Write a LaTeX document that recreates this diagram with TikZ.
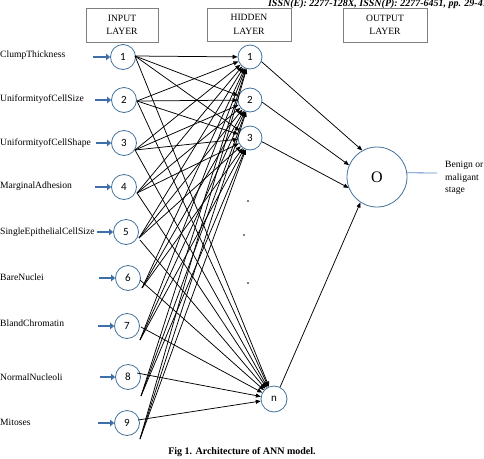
\documentclass[tikz,border=0pt]{standalone}
\usepackage{fontspec}
\setmainfont{Liberation Serif}
\newfontfamily\numfont{Carlito}
\usetikzlibrary{arrows.meta,calc}
\definecolor{nodeblue}{HTML}{41719C}
\definecolor{arrowblue}{HTML}{3F6FA8}
\definecolor{lineblue}{HTML}{5B8BC7}
\definecolor{boxgray}{HTML}{7F7F7F}
\begin{document}
\begin{tikzpicture}[x=1pt,y=-1pt,
  inp/.style={circle,draw=nodeblue,line width=0.8pt,minimum size=25pt,inner sep=0pt,font=\numfont\fontsize{11}{13}\selectfont},
  hid/.style={circle,draw=nodeblue,line width=0.8pt,minimum size=24pt,inner sep=0pt,font=\numfont\fontsize{11}{13}\selectfont},
  lbl/.style={anchor=west,inner sep=0pt,font=\fontsize{9.6}{11}\selectfont},
  layerbox/.style={draw=boxgray,line width=0.6pt,minimum height=34pt,align=center,font=\fontsize{9.6}{13.5}\selectfont,inner sep=0pt},
  feed/.style={draw=arrowblue,line width=2.2pt,-{Triangle[length=4pt,width=6.5pt]}},
  conn/.style={draw=black,line width=0.75pt,-{Triangle[length=5pt,width=4pt]}},
]
\useasboundingbox (0,0) rectangle (484,458);
\clip (0,0) rectangle (484,458);

% header (cut at top, as in the reference)
\node[anchor=base east,inner sep=0pt,font=\bfseries\itshape\fontsize{10}{12}\selectfont] (hdr) at (488,6) {ISSN(E): 2277-128X, ISSN(P): 2277-6451, pp. 29-41};

% layer boxes
\node[layerbox,minimum width=72pt] (binput) at (122,25) {INPUT\\LAYER};
\node[layerbox,minimum width=84pt,minimum height=33pt] (bhidden) at (249,24.5) {HIDDEN\\LAYER};
\node[layerbox,minimum width=84pt] (boutput) at (385,25) {OUTPUT\\LAYER};

% input labels
\node[lbl] (l1) at (0,55) {ClumpThickness};
\node[lbl] (l2) at (0,99) {UniformityofCellSize};
\node[lbl] (l3) at (0,143) {UniformityofCellShape};
\node[lbl] (l4) at (0,186) {MarginalAdhesion};
\node[lbl] (l5) at (0,232) {SingleEpithelialCellSize};
\node[lbl] (l6) at (0,277) {BareNuclei};
\node[lbl] (l7) at (0,323) {BlandChromatin};
\node[lbl] (l8) at (0,377) {NormalNucleoli};
\node[lbl] (l9) at (0,422) {Mitoses};

% input nodes
\node[inp] (i1) at (123,57) {1};
\node[inp] (i2) at (124,100) {2};
\node[inp] (i3) at (124,143) {3};
\node[inp] (i4) at (124,187) {4};
\node[inp] (i5) at (126,232) {5};
\node[inp] (i6) at (128,278) {6};
\node[inp] (i7) at (127,326) {7};
\node[inp] (i8) at (128,377) {8};
\node[inp] (i9) at (127,423) {9};

% hidden nodes
\node[hid] (h1) at (250,57) {1};
\node[hid] (h2) at (250,100) {2};
\node[hid] (h3) at (250,138) {3};
\node[hid,minimum size=26pt] (hn) at (274,399) {n};

% output node
\node[circle,draw=nodeblue,line width=0.8pt,minimum size=60pt,inner sep=0pt,font=\fontsize{16}{18}\selectfont] (O) at (377,177) {O};

% dots
\fill (248,201) circle[radius=0.9pt];
\fill (244,235) circle[radius=0.9pt];
\fill (248,283) circle[radius=0.9pt];

% feed arrows
\coordinate (f1) at (93,57);
\coordinate (f2) at (95,100);
\coordinate (f3) at (96,143);
\coordinate (f4) at (95,187);
\coordinate (f5) at (97,232);
\coordinate (f6) at (99,278);
\coordinate (f7) at (98,326);
\coordinate (f8) at (100,377);
\coordinate (f9) at (98,423);
\foreach \k in {1,...,9} {\draw[feed] (f\k) -- (i\k.west);}

% start points of connectors
\coordinate (u1) at ($(i1)+(12,-1)$);
\coordinate (u2) at ($(i2)+(13,1)$);
\coordinate (u3) at ($(i3)+(11,7)$);
\coordinate (u4) at ($(i4)+(13,6)$);
\coordinate (u5) at ($(i5)+(13,6)$);
\coordinate (u6) at ($(i6)+(14,10)$);
\coordinate (u7) at ($(i7)+(13,14)$);
\coordinate (u8) at ($(i8)+(13,19)$);
\coordinate (u9) at ($(i9)+(13,16)$);
\coordinate (e1) at ($(i1)+(12,-1)$);
\coordinate (e2) at ($(i2)+(13,1)$);
\coordinate (e3) at ($(i3)+(11,7)$);
\coordinate (e4) at ($(i4)+(13,6)$);
\coordinate (e5) at ($(i5)+(14,8)$);
\coordinate (e6) at ($(i6)+(12,2)$);
\coordinate (e7) at ($(i7)+(14,1)$);
\coordinate (e8) at ($(i8)+(9,-4)$);
\coordinate (e9) at ($(i9)+(11,-3)$);

\foreach \k in {1,...,9} {
  \foreach \h in {1,2,3} {\draw[conn] (u\k) -- (h\h);}
  \draw[conn] (e\k) -- (hn);
}

% hidden to output
\draw[conn] (h1.-22) -- (O.119);
\draw[conn] (h2.-10) -- (O.157);
\draw[conn] (h3.-17) -- (O.201);
\draw[conn] (hn.63) -- (O.237);

% output line and text
\coordinate (tl) at (437,173);
\draw[lineblue,line width=0.8pt] (O.8) -- (tl);
\node[anchor=west,align=left,inner sep=0pt,font=\fontsize{9.6}{12.5}\selectfont] (res) at (445,178) {Benign or\\maligant\\stage};

% caption
\node[inner sep=0pt,font=\bfseries\fontsize{10}{12}\selectfont] (cap) at (242,452) {Fig 1. Architecture of ANN model.};
\end{tikzpicture}
\end{document}
